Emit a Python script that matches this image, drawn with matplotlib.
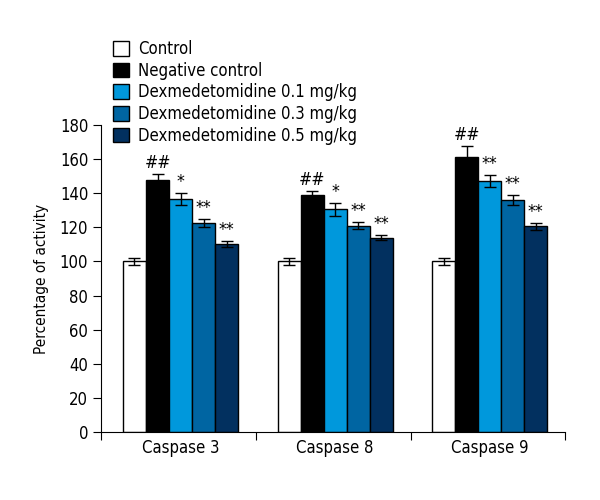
import matplotlib.pyplot as plt
from matplotlib.patches import Patch
import numpy as np

plt.rcParams['font.family'] = ['DejaVu Sans']
plt.rcParams['font.stretch'] = 'condensed'

groups = ["Caspase 3", "Caspase 8", "Caspase 9"]
series = ["Control", "Negative control", "Dexmedetomidine 0.1 mg/kg",
          "Dexmedetomidine 0.3 mg/kg", "Dexmedetomidine 0.5 mg/kg"]
colors = ["white", "black", "#0098dc", "#0065a2", "#02305f"]

# rows: series, columns: groups
values = [
    [100, 100, 100],
    [147.5, 139, 161.5],
    [136.5, 130.5, 147],
    [122.5, 121, 136],
    [110, 114, 120.5],
]
errors = [
    [2.3, 2.2, 2.2],
    [3.7, 2.5, 5.9],
    [3.6, 3.6, 3.4],
    [2.5, 2.0, 2.8],
    [1.8, 1.7, 2.0],
]
marks = [
    ["", "", ""],
    ["##", "##", "##"],
    ["*", "*", "**"],
    ["**", "**", "**"],
    ["**", "**", "**"],
]

fig = plt.figure(figsize=(6, 5), dpi=100)
ax = fig.add_axes([0.169, 0.136, 0.773, 0.614])

width = 0.149
centers = np.arange(len(groups)) + 0.512
for i in range(len(series)):
    x = centers + (i - 2) * width
    ax.bar(x, values[i], width, color=colors[i], edgecolor="black",
           linewidth=1, yerr=errors[i], capsize=4.5,
           error_kw=dict(elinewidth=1, capthick=1, ecolor="black"))
    for j in range(len(groups)):
        if marks[i][j]:
            ax.text(x[j], values[i][j] + errors[i][j] + 1.2, marks[i][j],
                    ha="center", va="bottom", fontsize=12.5)

ax.set_xlim(0, 3)
ax.set_ylim(0, 180)
ax.set_yticks(range(0, 181, 20))
ax.set_xticks([0, 1, 2, 3])
ax.set_xticklabels([])
ax.set_xticks(centers, minor=True)
ax.set_xticklabels(groups, minor=True, fontsize=12)
ax.tick_params(axis="x", which="minor", length=0, pad=5)
ax.tick_params(axis="x", which="major", length=6, direction="out")
ax.tick_params(axis="y", length=6, labelsize=12)
ax.spines["top"].set_visible(False)
ax.spines["right"].set_visible(False)
ax.set_ylabel("Percentage of activity", fontsize=11, labelpad=8)

handles = [Patch(facecolor=c, edgecolor="black", linewidth=1) for c in colors]
fig.legend(handles, series, loc="upper left", bbox_to_anchor=(0.188, 0.92),
           frameon=False, fontsize=12, handlelength=1.0, handleheight=1.0,
           handletextpad=0.5, labelspacing=0.22, borderpad=0, borderaxespad=0)

fig.savefig("out.png")
